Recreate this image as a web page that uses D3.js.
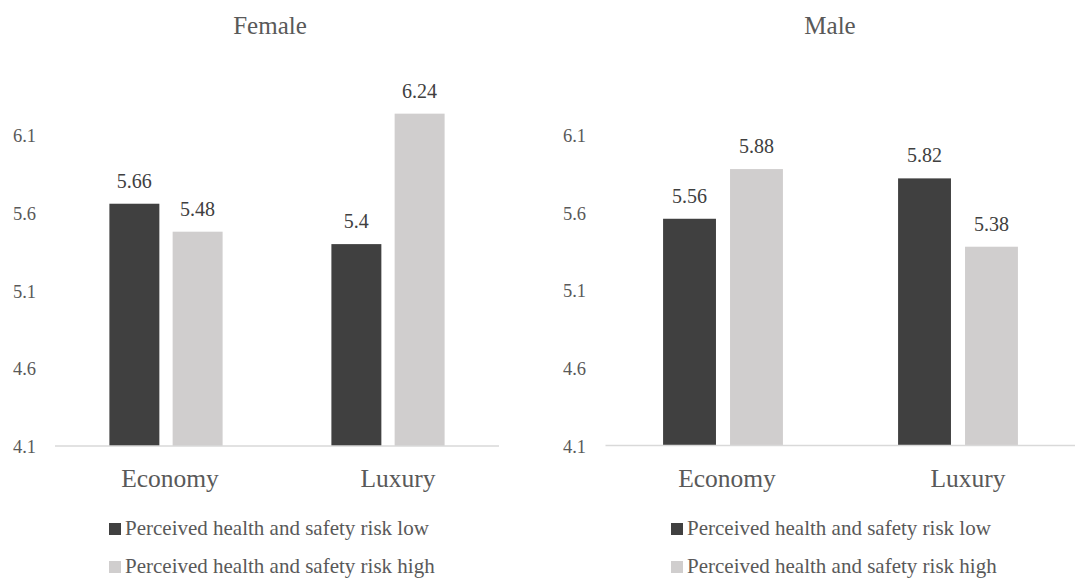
<!DOCTYPE html>
<html lang="en">
<head>
    <meta charset="UTF-8">
    <title>Female / Male grouped bars</title>
    <script src="https://d3js.org/d3.v7.min.js"></script>
    <style>
        body { margin: 0; background: #fff; }
        svg text { font-family: "Liberation Serif", "Times New Roman", serif; }
    </style>
</head>
<body>
<script>
    // data
    const categories = ['Economy', 'Luxury'];
    const seriesNames = ['Perceived health and safety risk low', 'Perceived health and safety risk high'];
    const panelTitles = ['Female', 'Male'];
    const femaleLow = [5.66, 5.4];
    const femaleHigh = [5.48, 6.24];
    const maleLow = [5.56, 5.82];
    const maleHigh = [5.88, 5.38];
    const yTicks = [4.1, 4.6, 5.1, 5.6, 6.1];
    const colors = ['#404040', '#d0cece'];

    const width = 1075, height = 578;
    // category labels sit a little right of the bar groups in the original
    const labelShift = [4, 10];

    const svg = d3.select('body').append('svg')
        .attr('width', width)
        .attr('height', height);

    // layout of each panel
    const panels = [
        { title: panelTitles[0], low: femaleLow, high: femaleHigh,
          left: 55, right: 499, base: 446, tickX: 36, titleX: 270, legendX: 109 },
        { title: panelTitles[1], low: maleLow, high: maleHigh,
          left: 605.5, right: 1075.5, base: 445.5, tickX: 586, titleX: 830, legendX: 671 }
    ];

    panels.forEach(p => {
        const g = svg.append('g');

        const y = d3.scaleLinear()
            .domain([4.1, 6.6])
            .range([p.base, p.base - 2.5 * 155.3]);

        const x0 = d3.scaleBand()
            .domain(categories)
            .range([p.left, p.right]);

        const groupW = x0.bandwidth() * 0.51;
        const x1 = d3.scaleBand()
            .domain([0, 1])
            .range([0, groupW])
            .paddingInner(0.21);

        // title
        g.append('text')
            .attr('x', p.titleX)
            .attr('y', 34)
            .attr('text-anchor', 'middle')
            .attr('fill', '#595959')
            .style('font-size', '25px')
            .text(p.title);

        // y tick labels
        g.selectAll('.ytick')
            .data(yTicks)
            .enter().append('text')
            .attr('class', 'ytick')
            .attr('x', p.tickX)
            .attr('y', d => y(d) + 7)
            .attr('text-anchor', 'end')
            .attr('fill', '#595959')
            .style('font-size', '18.5px')
            .text(d => d3.format('.1f')(d));

        const rows = categories.map((c, i) => ({ cat: c, vals: [p.low[i], p.high[i]] }));

        const groups = g.selectAll('.grp')
            .data(rows)
            .enter().append('g')
            .attr('class', 'grp')
            .attr('transform', d => `translate(${x0(d.cat) + (x0.bandwidth() - groupW) / 2},0)`);

        groups.selectAll('rect')
            .data(d => d.vals.map((v, k) => ({ v, k })))
            .enter().append('rect')
            .attr('x', d => x1(d.k))
            .attr('width', x1.bandwidth())
            .attr('y', d => y(d.v))
            .attr('height', d => p.base - y(d.v))
            .attr('fill', d => colors[d.k]);

        groups.selectAll('.val')
            .data(d => d.vals.map((v, k) => ({ v, k })))
            .enter().append('text')
            .attr('class', 'val')
            .attr('x', d => x1(d.k) + x1.bandwidth() / 2)
            .attr('y', d => y(d.v) - 16)
            .attr('text-anchor', 'middle')
            .attr('fill', '#404040')
            .style('font-size', '20px')
            .text(d => d.v);

        // axis line
        g.append('line')
            .attr('x1', p.left)
            .attr('x2', Math.min(p.right, width))
            .attr('y1', p.base)
            .attr('y2', p.base)
            .attr('stroke', '#d9d9d9')
            .attr('stroke-width', 1.5);

        // category labels
        g.selectAll('.cat')
            .data(categories)
            .enter().append('text')
            .attr('class', 'cat')
            .attr('x', (d, i) => x0(d) + x0.bandwidth() / 2 + labelShift[i])
            .attr('y', 487)
            .attr('text-anchor', 'middle')
            .attr('fill', '#595959')
            .style('font-size', '25.5px')
            .text(d => d);

        // legend
        const leg = g.selectAll('.leg')
            .data(seriesNames)
            .enter().append('g')
            .attr('class', 'leg')
            .attr('transform', (d, i) => `translate(${p.legendX},${529 + i * 38})`);

        leg.append('rect')
            .attr('x', 0)
            .attr('y', -6)
            .attr('width', 12)
            .attr('height', 12)
            .attr('fill', (d, i) => colors[i]);

        leg.append('text')
            .attr('x', 16)
            .attr('y', 6)
            .attr('fill', '#595959')
            .style('font-size', '21px')
            .text(d => d);
    });
</script>
</body>
</html>
